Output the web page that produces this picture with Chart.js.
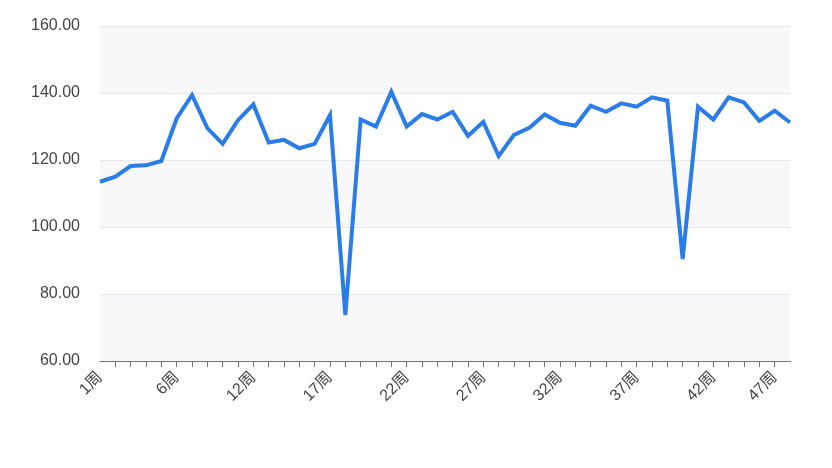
<!DOCTYPE html>
<html>
<head>
<meta charset="utf-8">
<script src="https://cdn.jsdelivr.net/npm/chart.js@4/dist/chart.umd.min.js"></script>
<style>
html,body{margin:0;padding:0;background:#fff;}
#wrap{width:832px;height:468px;position:relative;}
</style>
</head>
<body>
<div id="wrap"><canvas id="c" width="832" height="468"></canvas></div>
<script>
// Categories (46 weeks as plotted)
const categories = ["1周","2周","3周","4周","5周","6周","7周","8周","9周","10周",
  "12周","13周","14周","15周","16周","17周","18周","19周","20周","21周",
  "22周","23周","24周","25周","26周","27周","28周","29周","30周","31周",
  "32周","33周","34周","35周","36周","37周","38周","39周","40周","41周",
  "42周","43周","44周","45周","47周","48周"];
// Tick labels that are shown on the x axis
const shownLabels = ["1周","6周","12周","17周","22周","27周","32周","37周","42周","47周"];
// Series values
const values = [113.5,115.0,118.2,118.4,119.7,132.4,139.4,129.5,124.8,131.9,
  136.6,125.2,126.0,123.5,124.8,133.4,73.7,132.1,130.0,140.4,
  130.0,133.7,132.1,134.4,127.2,131.4,121.2,127.5,129.6,133.6,
  131.1,130.2,136.2,134.4,136.9,135.9,138.7,137.7,90.4,135.9,
  132.1,138.7,137.2,131.7,134.7,131.2];
// Y axis range
const yMin = 60, yMax = 160, yStep = 20;

const bandPlugin = {
  id: 'bands',
  beforeDatasetsDraw(chart) {
    const {ctx, chartArea, scales} = chart;
    const y = scales.y;
    ctx.save();
    let i = 0;
    for (let v = yMin; v < yMax; v += yStep, i++) {
      if (i % 2 === 0) {
        const top = y.getPixelForValue(v + yStep);
        const bot = y.getPixelForValue(v);
        ctx.fillStyle = '#f8f8fb';
        ctx.fillRect(chartArea.left, top, chartArea.right - chartArea.left, bot - top);
      }
    }
    ctx.strokeStyle = '#e8e8ec';
    ctx.lineWidth = 1;
    for (let v = yMin + yStep; v <= yMax; v += yStep) {
      const py = Math.round(y.getPixelForValue(v)) + 0.5;
      ctx.beginPath();
      ctx.moveTo(chartArea.left, py);
      ctx.lineTo(chartArea.right, py);
      ctx.stroke();
    }
    ctx.restore();
  }
};

const font = {family: '"Liberation Sans", Arial, "Noto Sans CJK SC", sans-serif', size: 16};

new Chart(document.getElementById('c'), {
  type: 'line',
  data: {
    labels: categories,
    datasets: [{
      data: values,
      borderColor: '#2a7de9',
      borderWidth: 4,
      pointRadius: 0,
      pointHoverRadius: 0,
      tension: 0,
      fill: false
    }]
  },
  options: {
    responsive: false,
    animation: false,
    events: [],
    layout: {padding: {left: 0, right: 42, top: 26, bottom: 0}},
    plugins: {legend: {display: false}, tooltip: {enabled: false}},
    scales: {
      x: {
        offset: false,
        afterFit(scale) { scale.height = 107; scale.paddingLeft = 0; scale.paddingRight = 0; },
        border: {display: true, color: '#6e7079', width: 1},
        grid: {
          drawOnChartArea: false,
          drawTicks: true,
          tickLength: 6,
          color: (c) => (c.index === 0 || c.index === categories.length - 1) ? 'rgba(0,0,0,0)' : '#6e7079'
        },
        ticks: {
          autoSkip: false,
          maxRotation: 45,
          minRotation: 45,
          padding: 1,
          color: '#444',
          font: font,
          callback: function(v, i) {
            const l = categories[i];
            return shownLabels.includes(l) ? l : '';
          }
        }
      },
      y: {
        min: yMin,
        max: yMax,
        afterFit(scale) { scale.width = 100; scale.paddingTop = 0; scale.paddingBottom = 0; },
        border: {display: false},
        grid: {display: false, drawTicks: false},
        ticks: {
          stepSize: yStep,
          padding: 20,
          color: '#444',
          font: font,
          callback: (v) => Number(v).toFixed(2)
        }
      }
    }
  },
  plugins: [bandPlugin]
});
</script>
</body>
</html>
